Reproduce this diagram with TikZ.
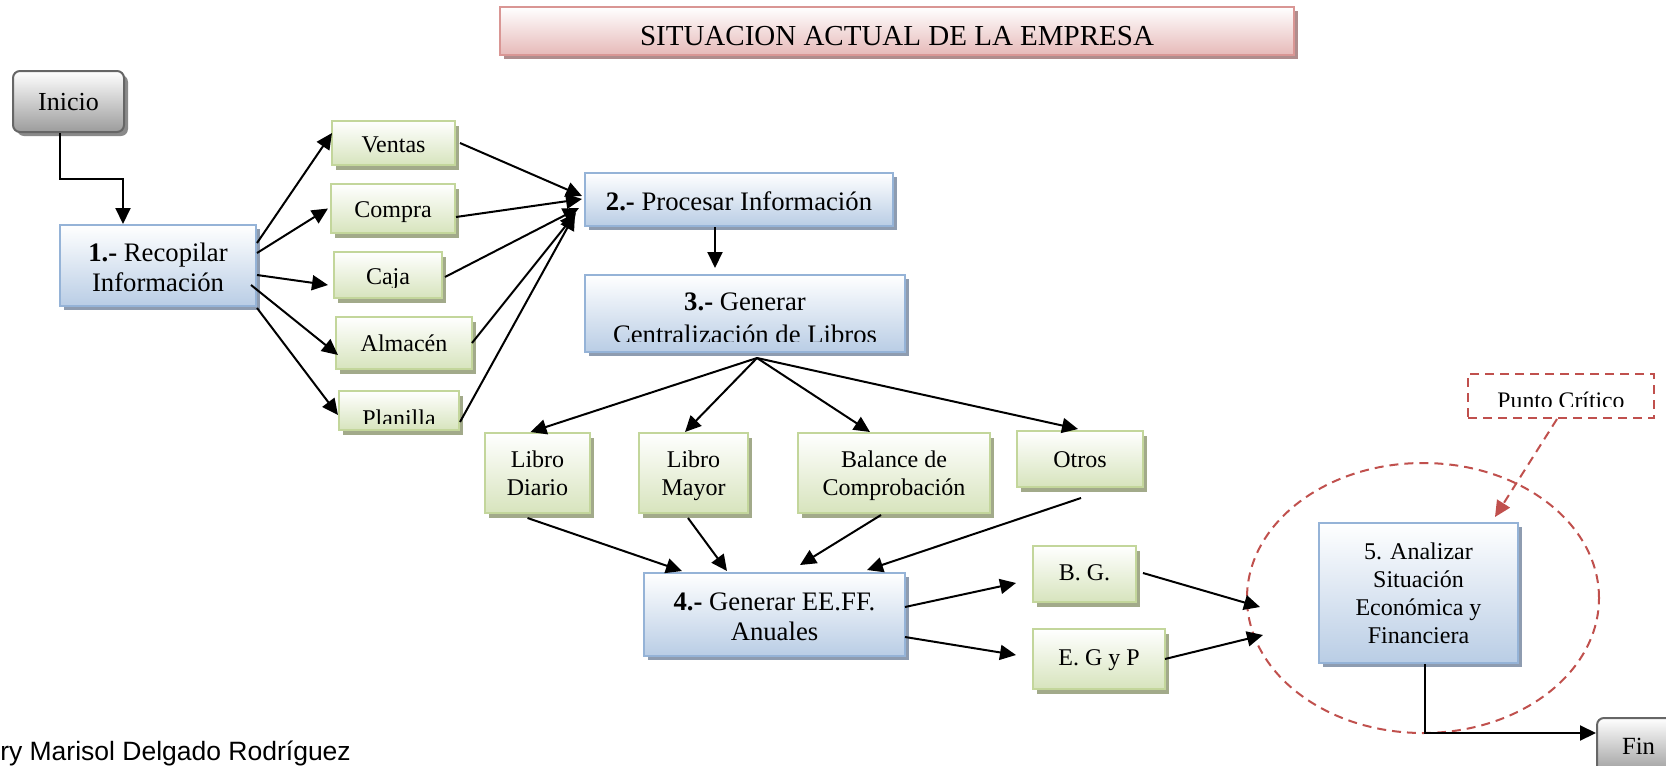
\documentclass[tikz,border=0pt]{standalone}
\usepackage{fontspec}
\setmainfont{Liberation Serif}
\newfontfamily\footfont{Liberation Sans}
\usetikzlibrary{arrows.meta,shadows,calc,shapes.geometric}
\definecolor{blueB}{HTML}{95B3D7}
\definecolor{blueF}{HTML}{B9CDE5}
\definecolor{blueS}{HTML}{8E9CB0}
\definecolor{greenB}{HTML}{C3D69B}
\definecolor{greenF}{HTML}{D7E4BD}
\definecolor{greenS}{HTML}{A2AA8A}
\definecolor{redB}{HTML}{D99694}
\definecolor{redF}{HTML}{E6B9B8}
\definecolor{redS}{HTML}{B08D8D}
\definecolor{grayB}{HTML}{666666}
\definecolor{grayF}{HTML}{9C9C9C}
\definecolor{grayS}{HTML}{8A8A8A}
\definecolor{critred}{HTML}{C0504D}
\begin{document}
\begin{tikzpicture}[x=1pt,y=-1pt,
  boxbase/.style={draw, line width=2pt, inner sep=0pt, align=center},
  bluebox/.style={boxbase, draw=blueB, top color=white, bottom color=blueF,
     drop shadow={shadow xshift=4pt,shadow yshift=-4pt,fill=blueS,opacity=1},
     font=\fontsize{26.7}{30}\selectfont, text height=28.5pt, text depth=5.8pt},
  greenbox/.style={boxbase, draw=greenB, top color=white, bottom color=greenF,
     drop shadow={shadow xshift=4pt,shadow yshift=-5pt,fill=greenS,opacity=1},
     font=\fontsize{24}{27.6}\selectfont, text height=22.4pt, text depth=5.2pt},
  redbox/.style={boxbase, draw=redB, top color=white, bottom color=redF,
     drop shadow={shadow xshift=4pt,shadow yshift=-4pt,fill=redS,opacity=1},
     font=\fontsize{29}{32}\selectfont},
  graybox/.style={boxbase, draw=grayB, rounded corners=7pt, top color=white, bottom color=grayF,
     drop shadow={shadow xshift=4pt,shadow yshift=-4pt,fill=grayS,opacity=1}},
  gtext/.style={inner sep=0pt, font=\fontsize{24}{27.6}\selectfont},
  btext/.style={inner sep=0pt, font=\fontsize{26.7}{30}\selectfont},
  arr/.style={line width=2pt, -{Triangle[length=16pt,width=15pt]}},
  critline/.style={draw=critred, line width=2pt, dash pattern=on 9pt off 6pt},
]
\useasboundingbox (0,0) rectangle (1666,766);

% title
\node[redbox, minimum width=794pt, minimum height=48pt, text height=30.8pt, text depth=2pt] (title) at (897,31) {SITUACION ACTUAL DE LA EMPRESA};

% start / end
\node[graybox, minimum width=111pt, minimum height=61pt, font=\fontsize{26}{30}\selectfont, text height=23.2pt, text depth=5.6pt] (Inicio) at (68.5,101.5) {Inicio};
\node[graybox, minimum width=83pt, minimum height=56pt, font=\fontsize{24.7}{28}\selectfont, text height=22pt, text depth=5.3pt] (Fin) at (1638.5,746) {Fin};

% main process boxes
\node[bluebox, minimum width=196pt, minimum height=81pt, text height=58.5pt] (R1) at (158,265.5) {\textbf{1.-} Recopilar\\Información};
\node[bluebox, minimum width=308pt, minimum height=53pt] (P2) at (739,199.5) {\textbf{2.-} Procesar Información};
\node[bluebox, minimum width=320pt, minimum height=77pt, text height=0pt, text depth=0pt] (P3) at (745,313.5) {};
\begin{scope}
  \clip (P3.north west) rectangle ($(P3.east)+(0,27.5)$);
  \node[btext, anchor=base] (P3a) at ($(P3.center)+(0,-3.5)$) {\textbf{3.-} Generar};
  \node[btext, anchor=base] (P3b) at ($(P3.center)+(0,29.5)$) {Centralización de Libros};
\end{scope}
\node[bluebox, minimum width=261pt, minimum height=83pt, text height=58.5pt] (P4) at (774.5,614.5) {\textbf{4.-} Generar EE.FF.\\Anuales};
\node[bluebox, minimum width=199pt, minimum height=140pt, font=\fontsize{24}{28}\selectfont, text height=105.4pt, text depth=5.2pt] (P5) at (1418.5,593) {5. Analizar\\Situación\\Económica y\\Financiera};

% sources
\node[greenbox, minimum width=123pt, minimum height=44pt, text height=24pt] (Ventas) at (393.5,143) {Ventas};
\node[greenbox, minimum width=124pt, minimum height=49pt] (Compra) at (393,208.5) {Compra};
\node[greenbox, minimum width=108pt, minimum height=46pt, text height=0pt, text depth=0pt] (Caja) at (388,275) {};
\begin{scope}
  \clip (Caja.north west) rectangle ($(Caja.east)+(0,12)$);
  \node[gtext, anchor=base] (CajaT) at ($(Caja.center)+(0,9)$) {Caja};
\end{scope}
\node[greenbox, minimum width=136pt, minimum height=52pt] (Alm) at (404,343) {Almacén};
\node[greenbox, minimum width=120pt, minimum height=39pt, text height=0pt, text depth=0pt] (Plan) at (399,410.5) {};
\begin{scope}
  \clip (Plan.north west) rectangle ($(Plan.east)+(0,12.5)$);
  \node[gtext, anchor=base] (PlanT) at ($(Plan.center)+(0,15.5)$) {Planilla};
\end{scope}

% books
\node[greenbox, minimum width=105pt, minimum height=80pt, text height=50pt] (LD) at (537.5,473) {Libro\\Diario};
\node[greenbox, minimum width=109pt, minimum height=80pt, text height=50pt] (LM) at (693.5,473) {Libro\\Mayor};
\node[greenbox, minimum width=192pt, minimum height=80pt, text height=50pt] (BC) at (894,473) {Balance de\\Comprobación};
\node[greenbox, minimum width=126pt, minimum height=56pt] (Otros) at (1080,459) {Otros};

% statements
\node[greenbox, minimum width=103pt, minimum height=56pt, text height=19pt] (BG) at (1084.5,574) {B. G.};
\node[greenbox, minimum width=132pt, minimum height=60pt, text height=19pt] (EGP) at (1099,659) {E. G y P};

% critical point
\node[ellipse, critline, minimum width=352pt, minimum height=270pt] (circ) at (1423,598) {};
\node[critline, inner sep=0pt, minimum width=186pt, minimum height=44pt] (PC) at (1561,396) {};
\begin{scope}
  \clip (PC.north west) rectangle ($(PC.east)+(0,10)$);
  \node[inner sep=0pt, anchor=base, font=\fontsize{23.7}{27}\selectfont] (PCT) at ($(PC.center)+(0,12)$) {Punto Crítico};
\end{scope}

% connectors
\draw[arr] ($(Inicio.south)+(-8.5,0)$) -- ++(0,46) -| ($(R1.north)+(-35,0)$);

\draw[arr] ($(R1.east)+(0,-22.5)$) -- ($(Ventas.west)+(1,-10)$);
\draw[arr] ($(R1.east)+(0,-12.5)$) -- ($(Compra.west)+(-2,0)$);
\draw[arr] ($(R1.east)+(0,9.5)$) -- ($(Caja.west)+(-5,10)$);
\draw[arr] ($(R1.east)+(-6,19.5)$) -- ($(Alm.west)+(3,12)$);
\draw[arr] ($(R1.south east)+(0,1)$) -- ($(Plan.west)+(0,4.5)$);

\draw[arr] ($(Ventas.east)+(4,0)$) -- ($(P2.west)+(-2,-3.5)$);
\draw[arr] ($(Compra.east)+(0,8.5)$) -- ($(P2.west)+(-2,-0.5)$);
\draw[arr] ($(Caja.east)+(2,2)$) -- ($(P2.west)+(-5,8.5)$);
\draw[arr] ($(Alm.east)+(-1,0)$) -- ($(P2.west)+(-8,13.5)$);
\draw[arr] ($(Plan.east)+(0,11.5)$) -- ($(P2.west)+(-9,14.5)$);

\draw[arr] ($(P2.south)+(-24,0)$) -- ($(P3.north)+(-30,-6)$);

\draw[arr] ($(P3.south)+(12,5)$) -- ($(LD.north)+(-7,0)$);
\draw[arr] ($(P3.south)+(12,5)$) -- ($(LM.north)+(-8.5,0)$);
\draw[arr] ($(P3.south)+(12,5)$) -- ($(BC.north)+(-24,0)$);
\draw[arr] ($(P3.south)+(12,5)$) -- ($(Otros.north)+(-2,-1)$);

\draw[arr] ($(LD.south)+(-10,4)$) -- ($(P4.north)+(-92.5,-1)$);
\draw[arr] ($(LM.south)+(-5.5,4)$) -- ($(P4.north)+(-47.5,-1)$);
\draw[arr] ($(BC.south)+(-13,1)$) -- ($(P4.north)+(25.5,-7)$);
\draw[arr] ($(Otros.south)+(1,10)$) -- ($(P4.north)+(92.5,-2)$);

\draw[arr] ($(P4.east)+(-1,-7.5)$) -- ($(BG.west)+(-16,9)$);
\draw[arr] ($(P4.east)+(-1,22.5)$) -- ($(EGP.west)+(-16,-4)$);

\draw[arr] ($(BG.east)+(6,-1)$) -- ($(circ.west)+(14,9)$);
\draw[arr] ($(EGP.east)+(-1,0)$) -- ($(circ.west)+(17,37)$);

\draw[critline, -{Triangle[length=16pt,width=15pt,fill=critred]}] ($(PC.south)+(-4,0)$) -- ($(P5.north)+(76.5,-5)$);

\draw[arr] ($(P5.south)+(6.5,0)$) |- ($(Fin.west)+(0,-13)$);

% footer
\node[inner sep=0pt, anchor=base east, font=\footfont\fontsize{26.5}{30}\selectfont] (foot) at (351,760) {ry Marisol Delgado Rodríguez};
\end{tikzpicture}
\end{document}
